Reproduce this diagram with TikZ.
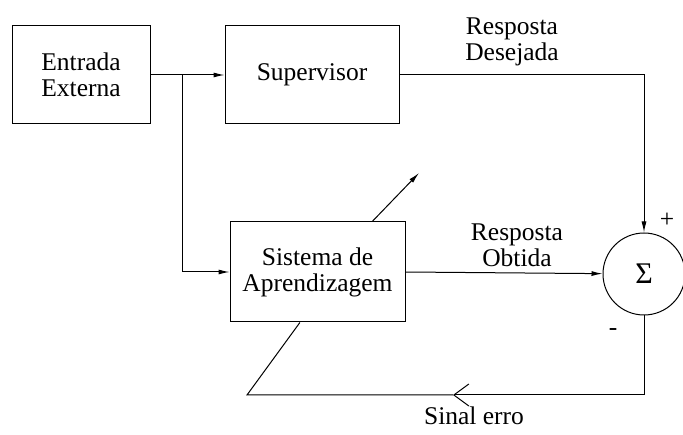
\documentclass[tikz,border=0pt]{standalone}
\usepackage{fontspec}
\setmainfont{Liberation Serif}
\usetikzlibrary{arrows.meta,calc}
\begin{document}
\begin{tikzpicture}[x=1pt,y=-1pt,
  txt/.style={font=\fontsize{25.5}{26}\selectfont, align=center, inner sep=0pt},
  blk/.style={draw, line width=1pt, txt},
  wire/.style={line width=1pt},
  arr/.style={wire, -{Latex[length=11pt,width=5pt]}},
  openarr/.style={wire, -{Straight Barb[length=15pt,width=22pt,line width=1pt]}}]
  \useasboundingbox (0,0) rectangle (683,435);

  % blocks
  \node[blk, minimum width=138pt, minimum height=98pt] (ent) at (81,75) {Entrada\\Externa};
  \node[blk, minimum width=174pt, minimum height=98pt] (sup) at (312,75) {Supervisor};
  \node[blk, minimum width=175pt, minimum height=100pt] (sis) at (317.5,272) {Sistema de\\Aprendizagem};
  \node[draw, circle, line width=1pt, minimum size=82pt, inner sep=0pt,
        font=\fontsize{30}{30}\selectfont] (sum) at (644,274) {Σ};

  % helper points
  \coordinate (j) at (182,75);
  \coordinate (errTip) at (453,395);
  \coordinate (errCorner) at (247,395);
  \coordinate (adjTail) at ($(sis.north west)!0.811!(sis.north east)$);
  \coordinate (adjHead) at (419,173);
  \coordinate (fbIn) at ($(sis.south west)!0.4!(sis.south east)$);

  % forward paths
  \draw[arr] (ent.east) -- (sup.west);
  \draw[arr] (j) |- (sis.west);
  \draw[arr] (sup.east) -| (sum.north);
  \draw[arr] (sis.east) -- (sum);

  % adjustment arrow
  \draw[arr] (adjTail) -- (adjHead);

  % error feedback
  \draw[openarr] (sum.south) |- (errTip);
  \draw[wire] (errTip) -- (errCorner) -- (fbIn);

  % labels
  \node[txt] (ldes) at (512,42) {Resposta\\Desejada};
  \node[txt] (lobt) at (517,245) {Resposta\\Obtida};
  \node[txt] (lerr) at (474,416) {Sinal erro};
  \node[txt] (lplus) at (667,220) {+};
  \node[txt] (lminus) at (613,332) {-};
\end{tikzpicture}
\end{document}
